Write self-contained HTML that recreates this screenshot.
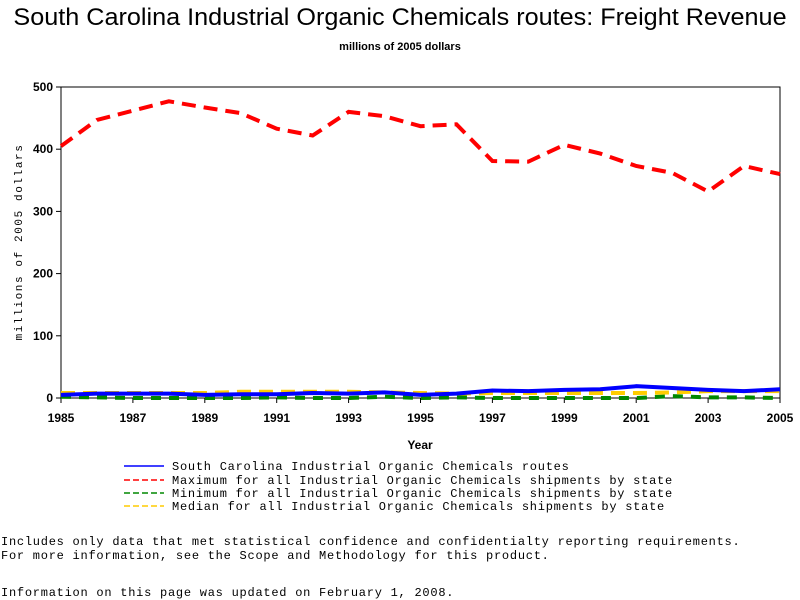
<!DOCTYPE html>
<html><head><meta charset="utf-8"><style>
body{margin:0;background:#fff;width:800px;height:600px;overflow:hidden;position:relative;font-family:"Liberation Sans",sans-serif}
.t{position:absolute;white-space:nowrap}
.mono{font-family:"Liberation Mono",monospace;font-size:12px;letter-spacing:0.75px}
</style></head><body>
<div class="t" style="left:0;top:4px;width:800px;text-align:center;font-size:24px;transform:scaleX(1.05)">South Carolina Industrial Organic Chemicals routes: Freight Revenue</div>
<div class="t" style="left:0;top:41px;width:800px;text-align:center;font-size:11px;font-weight:bold">millions of 2005 dollars</div>
<svg id="c" width="800" height="460" style="position:absolute;left:0;top:0"></svg>
<div class="t" style="left:0;top:0">
<svg width="800" height="520" style="position:absolute;left:0;top:0">
<line x1="124" y1="466" x2="164" y2="466" stroke="#00f" stroke-width="1.5"/>
<line x1="124" y1="480" x2="164" y2="480" stroke="#f00" stroke-width="1.5" stroke-dasharray="6,3"/>
<line x1="124" y1="493" x2="164" y2="493" stroke="#080" stroke-width="1.5" stroke-dasharray="6,3"/>
<line x1="124" y1="506" x2="164" y2="506" stroke="#fc0" stroke-width="1.5" stroke-dasharray="6,3"/>
</svg>
<div class="t mono" style="left:172px;top:460px">South Carolina Industrial Organic Chemicals routes</div>
<div class="t mono" style="left:172px;top:474px">Maximum for all Industrial Organic Chemicals shipments by state</div>
<div class="t mono" style="left:172px;top:487px">Minimum for all Industrial Organic Chemicals shipments by state</div>
<div class="t mono" style="left:172px;top:500px">Median for all Industrial Organic Chemicals shipments by state</div>
</div>
<div class="t mono" style="left:1px;top:535px;line-height:14px">Includes only data that met statistical confidence and confidentialty reporting requirements.<br>For more information, see the Scope and Methodology for this product.</div>
<div class="t mono" style="left:1px;top:586px">Information on this page was updated on February 1, 2008.</div>
<script>
const years=[1985,1986,1987,1988,1989,1990,1991,1992,1993,1994,1995,1996,1997,1998,1999,2000,2001,2002,2003,2004,2005];
const stateVals=[5,7,7,7,5,6,6,8,7,9,5,7,12,11,13,14,19,16,13,11,14];
const maxVals=[405,447,462,477,467,458,433,422,460,453,437,440,381,380,407,393,373,362,332,373,360];
const minVals=[2,1,0,0,0,0,1,0,0,2,0,1,0,0,0,0,0,3,1,1,0];
const medVals=[8,8,8,8,8,10,10,10,10,9,8,7,8,8,8,8,8,9,11,11,11];
const yTicks=[0,100,200,300,400,500];
const xTicks=[1985,1987,1989,1991,1993,1995,1997,1999,2001,2003,2005];
const L=61,R=780,T=87,B=398;
const sx=y=>L+(y-1985)/(2005-1985)*(R-L);
const sy=v=>B-v/500*(B-T);
const svg=document.getElementById('c');const NS='http://www.w3.org/2000/svg';
function mk(tag,a,parent){const e=document.createElementNS(NS,tag);for(const k in a)e.setAttribute(k,a[k]);(parent||svg).appendChild(e);return e;}
const frame=mk('rect',{x:L,y:T,width:R-L,height:B-T,fill:'none',stroke:'#000','stroke-width':1});


yTicks.forEach(v=>{
 const ln=mk('line',{x1:L-5,x2:L,y1:sy(v),y2:sy(v),stroke:'#000'});
 
 
 const t=mk('text',{x:L-8,y:sy(v)+4,'text-anchor':'end','font-size':12,'font-weight':'bold','font-family':'Liberation Sans,sans-serif'});
 t.textContent=v;
 
 
});
xTicks.forEach(v=>{
 const ln=mk('line',{x1:sx(v),x2:sx(v),y1:B,y2:B+5,stroke:'#000'});
 
 
 const t=mk('text',{x:sx(v),y:B+24,'text-anchor':'middle','font-size':12,'font-weight':'bold','font-family':'Liberation Sans,sans-serif'});
 t.textContent=v;
 
 
});
const xt=mk('text',{x:420,y:449,'text-anchor':'middle','font-size':12,'font-weight':'bold','font-family':'Liberation Sans,sans-serif'});
xt.textContent='Year';


const yt=mk('text',{x:0,y:0,'text-anchor':'middle','font-size':11,'font-family':'Liberation Mono,monospace','letter-spacing':'1.6',transform:'translate(22,242) rotate(-90)'});
yt.textContent='millions of 2005 dollars';


function series(vals,color,dash,name){
 const p=mk('polyline',{points:vals.map((v,i)=>sx(years[i])+','+sy(v)).join(' '),fill:'none',stroke:color,'stroke-width':4,'stroke-dasharray':dash||'none'});
 
 
}
series(minVals,'#080','10,8','min-line');
series(medVals,'#fc0','14,8','median-line');
series(stateVals,'#00f',null,'state-line');
series(maxVals,'#f00','14,8','max-line');
</script>
</body></html>
